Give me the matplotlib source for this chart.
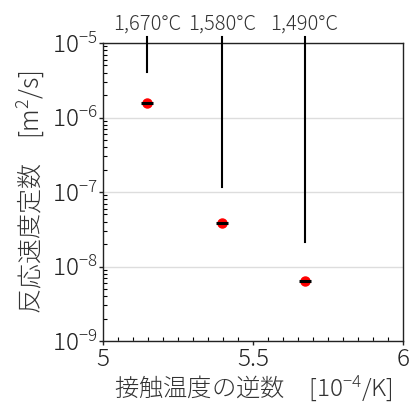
import matplotlib
matplotlib.use("Agg")
import matplotlib.pyplot as plt
from matplotlib.ticker import LogLocator, MultipleLocator, FixedFormatter, FixedLocator

plt.rcParams["font.family"] = ["Noto Sans CJK JP", "DejaVu Sans"]
plt.rcParams["font.weight"] = "light"
plt.rcParams["axes.labelweight"] = "light"
plt.rcParams["mathtext.fontset"] = "custom"
plt.rcParams["mathtext.rm"] = "Noto Sans CJK JP:light"
plt.rcParams["mathtext.it"] = "Noto Sans CJK JP:light"

# data
temps = ["1,670°C", "1,580°C", "1,490°C"]
inv_temp = [5.147, 5.397, 5.672]          # 1e-4 / K
rate = [1.55e-6, 3.8e-8, 6.4e-9]           # m2/s
line_bottom = [4.1e-6, 1.18e-7, 2.1e-8]
y_ticks = [1e-9, 1e-8, 1e-7, 1e-6, 1e-5]
y_labels = ["$10^{-9}$", "$10^{-8}$", "$10^{-7}$", "$10^{-6}$", "$10^{-5}$"]
x_ticks = [5, 5.5, 6]
x_labels = ["5", "5.5", "6"]

fig = plt.figure(figsize=(4.2, 4.03), dpi=100)
ax = fig.add_axes([103 / 420, 1 - 341 / 403, 300 / 420, 298 / 403])

ax.set_yscale("log")
ax.set_xlim(5, 6)
ax.set_ylim(1e-9, 1e-5)

# vertical marker lines reaching above the plot
for x, yb, lab in zip(inv_temp, line_bottom, temps):
    ax.plot([x, x], [yb, 1.2e-5], color="black", lw=1.5, clip_on=False, zorder=3)
    ax.text(x, 1.5e-5, lab, ha="center", va="baseline", fontsize=14.5,
            color="#333333")

ax.plot(inv_temp, rate, "o", color="red", ms=6.5, zorder=4)
ax.plot(inv_temp, rate, "_", color="black", ms=8, mew=2.2, zorder=5)

ax.yaxis.set_major_locator(FixedLocator(y_ticks))
ax.yaxis.set_major_formatter(FixedFormatter(y_labels))
ax.yaxis.set_minor_locator(LogLocator(base=10, subs=range(2, 10)))
ax.xaxis.set_major_locator(FixedLocator(x_ticks))
ax.xaxis.set_major_formatter(FixedFormatter(x_labels))
ax.xaxis.set_minor_locator(MultipleLocator(0.05))

ax.tick_params(which="major", direction="out", length=3, width=1, labelsize=17.5,
               colors="#222222", pad=1)
ax.tick_params(which="minor", direction="in", length=3, width=0.8)
ax.tick_params(axis="y", which="minor", labelleft=False)

ax.grid(True, axis="y", which="major", color="#dddddd", lw=1)
for s in ax.spines.values():
    s.set_color("#222222")
    s.set_linewidth(1)

ax.set_xlabel("接触温度の逆数　[$10^{-4}$/K]", fontsize=17.5, color="#333333",
              fontweight="light", va="baseline")
ax.xaxis.set_label_coords(0.5, -55 / 298)
ax.set_ylabel("反応速度定数　[m$^{2}$/s]", fontsize=18, color="#333333",
              fontweight="light", labelpad=4)

fig.savefig("out.png", dpi=100)
